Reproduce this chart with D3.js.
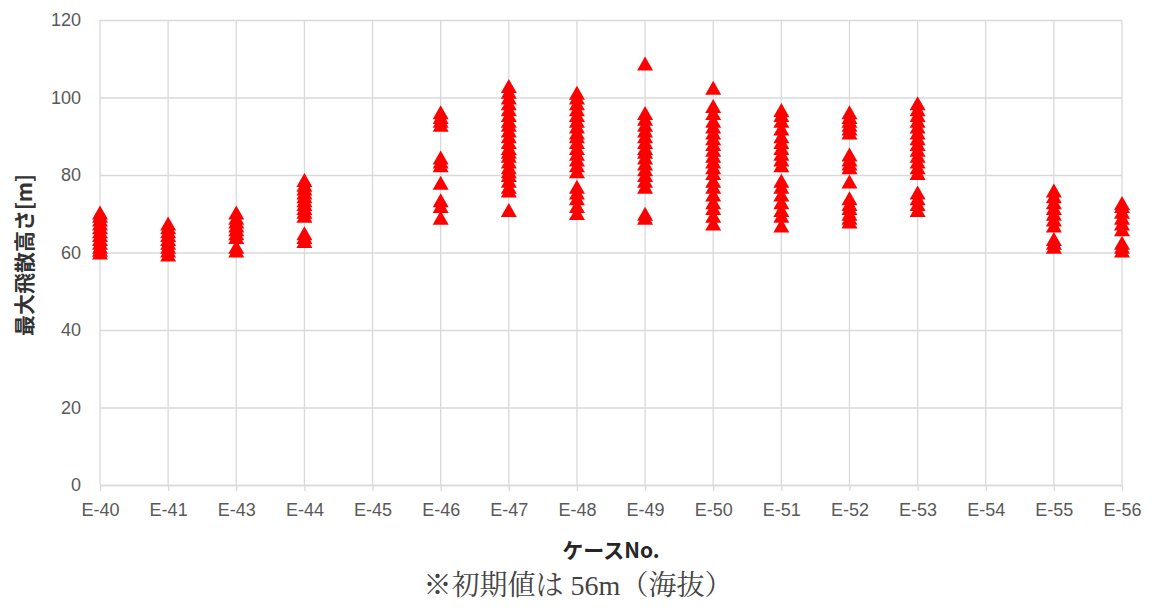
<!DOCTYPE html>
<html>
<head>
<meta charset="utf-8">
<script src="https://cdn.jsdelivr.net/npm/d3@7"></script>
<style>
  html, body { margin: 0; padding: 0; background: #fff; }
  svg { display: block; }
</style>
</head>
<body>
<svg id="chart" width="1152" height="610"></svg>
<script>
// ---- data ----
const categories = ["E-40","E-41","E-43","E-44","E-45","E-46","E-47","E-48","E-49","E-50","E-51","E-52","E-53","E-54","E-55","E-56"];
const yTicks = [0, 20, 40, 60, 80, 100, 120];

const e40 = [60, 60.7, 61.5, 62.5, 63.5, 64.5, 65.5, 66.5, 67.5, 68.5, 69.5, 70.3];
const e41 = [59.5, 60.5, 61.5, 62.5, 63.5, 64.5, 65.5, 66.5, 67.5];
const e43 = [60.5, 61.5, 64, 65, 66, 67, 68, 69, 70.3];
const e44 = [63, 64, 65, 69.5, 70.5, 71.5, 72.5, 73.5, 74.5, 75.5, 76.5, 77.5, 78.7];
const e45 = [];
const e46 = [69, 72, 73.5, 78, 82.5, 83.5, 84.5, 93, 94, 95, 96.2];
const e47 = [71, 76, 77, 78.5, 80, 81, 82, 83.5, 85, 86, 87, 88.5, 90, 91.5, 93, 94, 95.5, 97, 98.5, 100, 101.5, 103];
const e48 = [70.2, 72, 74, 75.5, 77, 81, 82.5, 84, 85.5, 87, 88.5, 90, 91, 92.5, 94, 95.5, 97, 98.5, 100, 101.2];
const e49 = [69, 70, 77, 78.5, 80, 81.5, 83, 84.5, 86, 87, 88.5, 90, 91.5, 93, 94.5, 96, 108.8];
const e50 = [67.5, 69.5, 71.5, 73, 75, 77, 78.5, 80.5, 82, 83.5, 85, 86.5, 88, 89.5, 91, 92.5, 94, 96, 97.8, 102.5];
const e51 = [67, 69.5, 71, 73, 75, 77, 78.5, 82.5, 84, 85.5, 87, 88.5, 90, 92, 94, 95.5, 96.8];
const e52 = [68, 69, 70, 71.5, 72.5, 74, 78.3, 82, 83, 84, 85.3, 91, 92, 93, 94, 95, 96.2];
const e53 = [71, 72.5, 74, 75.5, 80.5, 82, 83.5, 85, 86.5, 88, 89.5, 91, 92.5, 94, 95.5, 97, 98.5];
const e54 = [];
const e55 = [61.5, 62.5, 63.5, 67, 68.5, 70, 71.5, 73, 74.5, 76];
const e56 = [60.5, 61.5, 62.5, 66, 67.5, 69, 70.5, 72, 72.8];
const valuesByCase = [e40, e41, e43, e44, e45, e46, e47, e48, e49, e50, e51, e52, e53, e54, e55, e56];

const yTitle = "最大飛散高さ[m]";
const xTitle = "ケースNo.";
const note = "※初期値は 56m（海抜）";

// ---- layout ----
const svg = d3.select("#chart");
const mLeft = 100, mRight = 1122, mTop = 20, mBottom = 485;

const x = d3.scalePoint().domain(categories).range([mLeft, mRight]);
const y = d3.scaleLinear().domain([0, 120]).range([mBottom, mTop]);

const gridColor = "#d9d9d9";
const textColor = "#595959";
const tickFont = "'Liberation Sans', Arial, sans-serif";

// horizontal gridlines + y labels
const yAxis = svg.append("g")
  .attr("transform", `translate(${mLeft},0)`)
  .call(d3.axisLeft(y).tickValues(yTicks).tickSize(-(mRight - mLeft)).tickPadding(19));
yAxis.select(".domain").remove();
yAxis.selectAll(".tick line").attr("stroke", gridColor).attr("stroke-width", 1.3);
yAxis.selectAll(".tick text")
  .attr("fill", textColor)
  .style("font-family", tickFont)
  .style("font-size", "18px");

// vertical gridlines
svg.append("g").selectAll("line")
  .data(categories)
  .join("line")
  .attr("x1", d => x(d)).attr("x2", d => x(d))
  .attr("y1", y(120)).attr("y2", y(0))
  .attr("stroke", gridColor).attr("stroke-width", 1.3);

// x axis (ticks below baseline)
const xAxis = svg.append("g")
  .attr("transform", `translate(0,${mBottom})`)
  .call(d3.axisBottom(x).tickSize(6).tickPadding(12).tickSizeOuter(0));
xAxis.select(".domain").attr("stroke", gridColor).attr("stroke-width", 1.3);
xAxis.selectAll(".tick line").attr("stroke", gridColor).attr("stroke-width", 1.3);
xAxis.selectAll(".tick text")
  .attr("fill", textColor)
  .style("font-family", tickFont)
  .style("font-size", "18px");

// points: triangles
const pts = [];
categories.forEach((c, i) => valuesByCase[i].forEach(v => pts.push({c, v})));
const tw = 16, th = 14;
svg.append("g").selectAll("path")
  .data(pts)
  .join("path")
  .attr("transform", d => `translate(${x(d.c)},${y(d.v)})`)
  .attr("d", `M0,${-th/2} L${tw/2},${th/2} L${-tw/2},${th/2} Z`)
  .attr("fill", "#ff0000");

// titles
svg.append("text")
  .attr("transform", `translate(23,255) rotate(-90)`)
  .attr("text-anchor", "middle")
  .attr("dominant-baseline", "central")
  .attr("fill", "#333")
  .style("font-family", "'Noto Sans CJK JP', sans-serif")
  .style("font-weight", "bold")
  .style("font-size", "21px")
  .text(yTitle);

svg.append("text")
  .attr("x", (mLeft + mRight) / 2)
  .attr("y", 549)
  .attr("text-anchor", "middle")
  .attr("dominant-baseline", "central")
  .attr("fill", "#262626")
  .style("font-family", "'Noto Sans CJK JP', sans-serif")
  .style("font-weight", "bold")
  .style("font-size", "21px")
  .text(xTitle);

svg.append("text")
  .attr("x", 578)
  .attr("y", 585)
  .attr("text-anchor", "middle")
  .attr("dominant-baseline", "central")
  .attr("fill", "#444")
  .style("font-family", "'Liberation Serif', 'Noto Serif CJK JP', serif")
  .style("font-size", "28px")
  .text(note);
</script>
</body>
</html>
